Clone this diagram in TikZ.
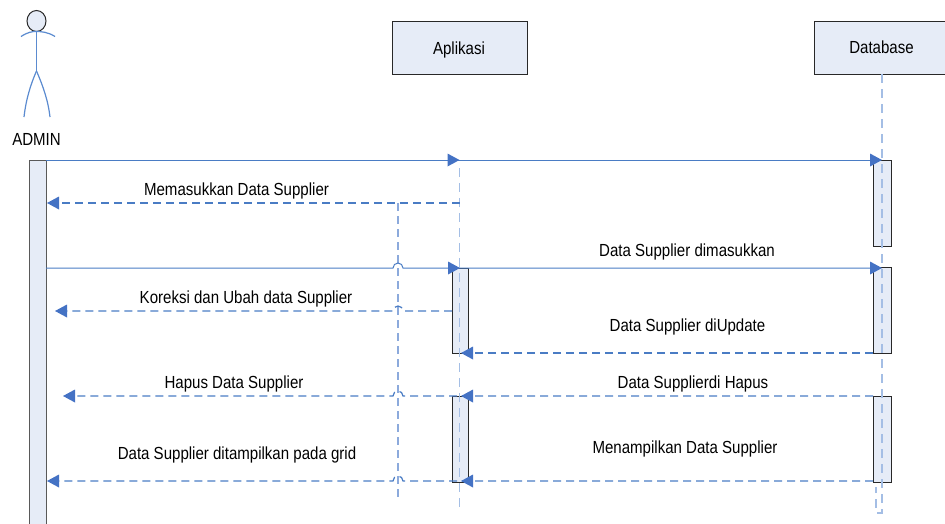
\documentclass[tikz,border=0pt]{standalone}
\usepackage{fontspec}
\setmainfont{Liberation Sans}[FakeStretch=0.86]
\definecolor{fillb}{RGB}{230,236,247}
\definecolor{msgb}{RGB}{74,124,196}
\definecolor{lifeb}{RGB}{164,190,229}
\definecolor{guideb}{RGB}{140,170,220}
\definecolor{tipb}{RGB}{68,114,196}
\definecolor{edge}{RGB}{40,40,40}
\definecolor{actorb}{RGB}{91,139,208}
\newcommand\arrtipL[1]{\fill[tipb] (#1) -- ++(12,-6.5) -- ++(0,13) -- cycle;}
\newcommand\arrtipR[1]{\fill[tipb] (#1) -- ++(-12,-6.5) -- ++(0,13) -- cycle;}
\begin{document}
\begin{tikzpicture}[x=1pt,y=-1pt,
 every node/.style={font=\fontsize{17.5}{20}\selectfont, inner sep=0pt},
 objbox/.style={draw=edge, fill=fillb, line width=1pt, minimum height=53pt},
 actbar/.style={draw=edge, fill=fillb, line width=1pt},
 lifeline/.style={draw=lifeb, line width=1.8pt, dash pattern=on 9pt off 6pt},
 guide/.style={draw=guideb, line width=1.3pt, dash pattern=on 8pt off 5pt},
 msgsolid/.style={draw=msgb, line width=1pt},
 msgdash/.style={draw=msgb, line width=1.2pt, dash pattern=on 8pt off 5pt},
 actor/.style={draw=actorb, line width=1.2pt},
 lbl/.style={anchor=base}
]
\useasboundingbox (0,0) rectangle (945,523);
\clip (0,0) rectangle (945,523);

% objects
\node[objbox, minimum width=135pt] (apl) at (459.5,47.5) {};
\node[lbl] (apltxt) at (459,54) {Aplikasi};
\node[objbox, minimum width=160pt] (db) at (894,47.5) {};
\node[lbl] (dbtxt) at (881.5,53.5) {Database};

% actor
\filldraw[draw=edge, fill=fillb, line width=1pt] (36.5,21) ellipse (9.5 and 10.5);
\coordinate (neck) at (36.5,31.5);
\coordinate (hip) at (36.5,71);
\draw[actor] (21,36.5) .. controls (28,32) and (32,31.5) .. (neck) .. controls (41,31.5) and (48,32) .. (55,36.5);
\draw[actor] (neck) -- (hip);
\draw[actor] (hip) .. controls (30,86) and (26,100) .. (24,117);
\draw[actor] (hip) .. controls (43,86) and (48,100) .. (50,117);
\node[lbl] (admin) at (36.5,145) {ADMIN};

% activation bars
\filldraw[actbar, draw=gray!70!black] (29,160) rectangle (46,530);
\filldraw[actbar] (452,268) rectangle (468,353);
\filldraw[actbar] (452,396) rectangle (468,482);
\filldraw[actbar] (873,160) rectangle (891,246);
\filldraw[actbar] (873,267) rectangle (891,353);
\filldraw[actbar] (873,396) rectangle (891,482);

% lifelines
\coordinate (aplS) at (459.5,168);
\coordinate (aplE) at (459.5,512);
\coordinate (dbS) at (882,74);
\coordinate (dbE) at (882,513);
\draw[lifeline] (aplS) -- (aplE);
\draw[lifeline] (dbS) -- (dbE) -- (876,513) -- (876,487);

% guide line
\coordinate (gS) at (398,203);
\coordinate (gE) at (398,499);
\draw[guide] (gS) -- (gE);

% messages
\coordinate (m1a) at (46,160);   \coordinate (m1b) at (873,160);
\draw[msgsolid] (m1a) -- (m1b);
\arrtipR{459.5,160} \arrtipR{882,160}

\coordinate (m2a) at (459.5,203); \coordinate (m2b) at (52,203);
\draw[msgdash] (m2a) -- (m2b);
\arrtipL{47,203}
\node[lbl] (t2) at (236.5,195) {Memasukkan Data Supplier};

\coordinate (m3a) at (46,268); \coordinate (m3b) at (873,268);
\draw[msgsolid] (m3a) -- (393,268) arc (180:360:5) -- (m3b);
\arrtipR{460,268} \arrtipR{882,268}
\node[lbl] (t3) at (687,256) {Data Supplier dimasukkan};

\coordinate (m4a) at (452,311); \coordinate (m4b) at (60,311);
\draw[msgdash] (m4a) -- (403,311) arc (0:-180:5) -- (m4b);
\arrtipL{55,311}
\node[lbl] (t4) at (246,303) {Koreksi dan Ubah data Supplier};

\coordinate (m5a) at (873,353); \coordinate (m5b) at (468,353);
\draw[msgdash] (m5a) -- (m5b);
\arrtipL{461,353}
\node[lbl] (t5) at (687.5,331) {Data Supplier diUpdate};

\coordinate (m6a) at (873,396); \coordinate (m6b) at (68,396);
\draw[msgdash] (m6a) -- (403,396) arc (0:-180:5) -- (m6b);
\arrtipL{461,396} \arrtipL{63,396}
\node[lbl] (t6a) at (693,388) {Data Supplierdi Hapus};
\node[lbl] (t6b) at (234,388) {Hapus Data Supplier};

\coordinate (m7a) at (873,481); \coordinate (m7b) at (52,481);
\draw[msgdash] (m7a) -- (403,481) arc (0:-180:5) -- (m7b);
\arrtipL{461,481} \arrtipL{47,481}
\node[lbl] (t7a) at (685,453) {Menampilkan Data Supplier};
\node[lbl] (t7b) at (237,459) {Data Supplier ditampilkan pada grid};
\end{tikzpicture}
\end{document}
